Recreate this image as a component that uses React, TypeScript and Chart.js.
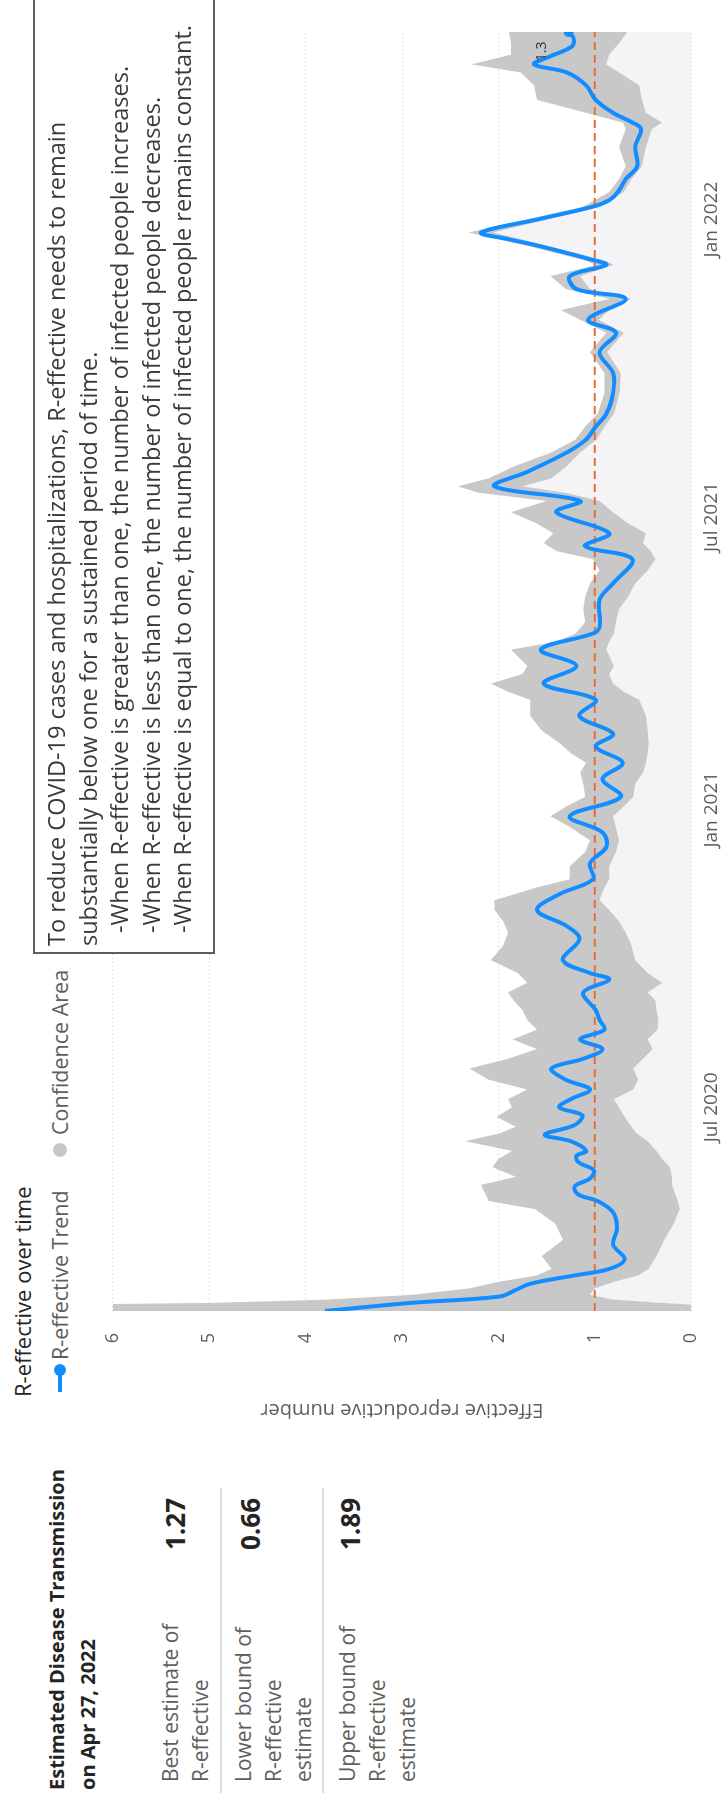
import React, { useEffect, useRef } from "react";
import { Chart, registerables } from "chart.js";

Chart.register(...registerables);

// Days are counted from 1 Jan 2020 (day 0).
const firstDay = 56;
const lastDay = 847;

const trendDays = [56, 61, 65, 69, 73, 78, 82, 88, 97, 107, 117, 124, 128, 133, 138, 143, 148, 152, 155, 161, 165, 171, 177, 182, 187, 193, 199, 206, 212, 218, 224, 230, 236, 242, 253, 261, 265, 273, 286, 294, 304, 314, 323, 333, 343, 352, 362, 374, 385, 395, 405, 413, 424, 434, 444, 455, 465, 475, 479, 496, 506, 521, 529, 537, 550, 557, 566, 575, 587, 595, 603, 611, 624, 636, 649, 661, 669, 682, 688, 696, 703, 706, 715, 719, 723, 731, 739, 743, 748, 756, 764, 776, 787, 791, 797, 805, 814, 822, 827, 832, 838, 843, 847];
const trendValues = [3.8, 2.91, 1.98, 1.82, 1.66, 1.21, 0.85, 0.69, 0.81, 0.77, 0.81, 0.97, 1.17, 1.21, 1.05, 1.01, 1.17, 1.19, 1.09, 1.25, 1.52, 1.21, 1.13, 1.37, 1.25, 1.05, 1.3, 1.45, 1.12, 0.92, 1.15, 0.9, 0.95, 0.99, 1.12, 0.85, 1.05, 1.33, 1.16, 1.29, 1.6, 1.36, 1.02, 1.05, 0.88, 0.92, 1.26, 0.73, 0.92, 0.71, 0.99, 0.81, 1.16, 0.99, 1.53, 1.19, 1.56, 1.02, 0.95, 0.95, 0.81, 0.61, 1.1, 0.85, 1.4, 1.15, 2.04, 1.7, 1.29, 1.09, 0.99, 0.88, 0.81, 0.81, 0.95, 0.78, 1.07, 0.68, 1.19, 1.26, 0.88, 1.02, 1.6, 1.91, 2.18, 1.6, 1.02, 0.85, 0.76, 0.68, 0.56, 0.58, 0.52, 0.61, 0.81, 0.99, 1.09, 1.29, 1.63, 1.46, 1.24, 1.22, 1.27];

const bandDays = [56, 60, 61, 63, 66, 70, 74, 78, 82, 90, 100, 110, 119, 124, 134, 139, 145, 150, 155, 161, 166, 170, 176, 182, 187, 193, 199, 206, 212, 218, 224, 230, 236, 242, 248, 253, 259, 265, 273, 282, 290, 297, 304, 310, 318, 323, 331, 340, 347, 355, 362, 368, 374, 382, 389, 395, 401, 407, 415, 424, 434, 439, 444, 450, 455, 465, 470, 475, 482, 490, 498, 506, 514, 521, 526, 531, 537, 543, 550, 557, 562, 566, 571, 578, 587, 595, 603, 611, 624, 636, 649, 661, 669, 675, 682, 688, 696, 703, 706, 715, 723, 731, 739, 748, 756, 764, 776, 787, 791, 797, 805, 814, 822, 827, 833, 840, 847];
const bandLower = [0, 0, 0.3, 0.8, 1.05, 1.0, 0.8, 0.55, 0.44, 0.36, 0.28, 0.18, 0.12, 0.14, 0.2, 0.2, 0.22, 0.3, 0.36, 0.45, 0.57, 0.62, 0.69, 0.75, 0.8, 0.6, 0.55, 0.6, 0.5, 0.4, 0.45, 0.35, 0.34, 0.36, 0.37, 0.45, 0.3, 0.45, 0.58, 0.62, 0.68, 0.75, 0.85, 0.95, 0.9, 0.85, 0.85, 0.78, 0.75, 0.78, 0.81, 0.7, 0.6, 0.58, 0.5, 0.47, 0.45, 0.44, 0.45, 0.47, 0.54, 0.7, 0.81, 0.85, 0.8, 0.88, 0.85, 0.8, 0.78, 0.75, 0.65, 0.58, 0.45, 0.37, 0.42, 0.5, 0.47, 0.65, 0.81, 0.95, 1.3, 1.75, 1.45, 1.3, 1.15, 0.98, 0.9, 0.8, 0.74, 0.73, 0.87, 0.7, 0.96, 0.85, 0.62, 1.05, 1.15, 0.8, 0.92, 1.5, 2.05, 1.5, 0.94, 0.7, 0.62, 0.51, 0.47, 0.41, 0.3, 0.47, 0.51, 0.54, 0.75, 0.88, 0.85, 0.75, 0.66];
const bandUpper = [6.5, 6.5, 5.0, 3.8, 2.9, 2.3, 2.0, 1.6, 1.45, 1.55, 1.33, 1.41, 1.62, 2.1, 2.18, 1.82, 2.06, 2.0, 1.86, 2.34, 1.98, 1.82, 2.02, 1.86, 1.9, 1.7, 2.1, 2.3, 1.9, 1.6, 1.85, 1.6, 1.7, 1.75, 1.84, 1.9, 1.7, 1.8, 2.08, 1.95, 1.9, 1.95, 2.04, 2.04, 1.6, 1.26, 1.26, 1.1, 1.05, 1.25, 1.46, 1.3, 1.1, 1.12, 1.15, 1.09, 1.25, 1.36, 1.55, 1.67, 1.67, 1.9, 2.08, 1.75, 1.7, 1.87, 1.4, 1.2, 1.1, 1.12, 1.1, 1.05, 0.95, 1.02, 1.4, 1.53, 1.43, 1.6, 1.87, 1.5, 2.2, 2.42, 2.1, 1.85, 1.45, 1.2, 1.1, 0.97, 0.9, 0.9, 1.05, 0.88, 1.15, 1.35, 0.85, 1.3, 1.46, 0.98, 1.12, 1.72, 2.31, 1.72, 1.12, 0.85, 0.75, 0.68, 0.75, 0.68, 0.71, 1.09, 1.6, 1.63, 1.77, 2.28, 1.87, 1.87, 1.89];

const xTickDays = [182, 366, 547, 731];
const xTickLabels = ["Jul 2020", "Jan 2021", "Jul 2021", "Jan 2022"];
const yTickMin = 0;
const yTickMax = 6;
const thresholdValue = 1;
const pointLabelText = "1.3";
const pointLabelDay = 835;
const pointLabelValue = 1.55;

const headerLines = ["Estimated Disease Transmission", "on Apr 27, 2022"];
const cardLabels = [
  ["Best estimate of", "R-effective"],
  ["Lower bound of", "R-effective", "estimate"],
  ["Upper bound of", "R-effective", "estimate"],
];
const cardValues = ["1.27", "0.66", "1.89"];
const chartTitle = "R-effective over time";
const legendTrend = "R-effective Trend";
const legendBand = "Confidence Area";
const yAxisTitle = "Effective reproductive number";
const noteLines = [
  "To reduce COVID-19 cases and hospitalizations, R-effective needs to remain",
  "substantially below one for a sustained period of time.",
  "-When R-effective is greater than one, the number of infected people increases.",
  "-When R-effective is less than one, the number of infected people decreases.",
  "-When R-effective is equal to one, the number of infected people remains constant.",
];

const FONT = "'Segoe UI', 'Open Sans', sans-serif";
const BLUE = "#118DFF";
const BAND = "#C8C8C8";
const LIGHT = "#F4F4F6";
const ORANGE = "#E66C37";
const AXIS_TEXT = "#605E5C";

const W = 1802;
const H = 724;

export default function App() {
  const canvasRef = useRef<HTMLCanvasElement>(null);

  useEffect(() => {
    const canvas = canvasRef.current;
    if (!canvas) return;
    const labelPlugin = {
      id: "pointLabel",
      afterDatasetsDraw(chart: any) {
        const { ctx, scales } = chart;
        ctx.save();
        ctx.font = "14px 'Open Sans'";
        ctx.fillStyle = "#333333";
        ctx.textAlign = "center";
        ctx.textBaseline = "middle";
        ctx.fillText(pointLabelText, scales.x.getPixelForValue(pointLabelDay), scales.y.getPixelForValue(pointLabelValue));
        ctx.restore();
      },
    };
    const chart = new Chart(canvas, {
      type: "line",
      data: {
        datasets: [
          {
            label: legendTrend,
            data: trendDays.map((d, i) => ({ x: d, y: trendValues[i] })),
            borderColor: BLUE,
            backgroundColor: BLUE,
            borderWidth: 4,
            tension: 0.35,
            pointRadius: (c: any) => (c.dataIndex === trendDays.length - 1 ? 5 : 0),
            pointBackgroundColor: BLUE,
            pointBorderWidth: 0,
            fill: false,
            order: 0,
          },
          {
            label: "threshold",
            data: [
              { x: firstDay, y: thresholdValue },
              { x: lastDay, y: thresholdValue },
            ],
            borderColor: ORANGE,
            borderWidth: 2,
            borderDash: [8, 5],
            pointRadius: 0,
            fill: false,
            order: 1,
          },
          {
            label: "lower",
            data: bandDays.map((d, i) => ({ x: d, y: bandLower[i] })),
            borderWidth: 0,
            borderColor: "rgba(0,0,0,0)",
            backgroundColor: LIGHT,
            pointRadius: 0,
            fill: "origin",
            tension: 0,
            order: 3,
          },
          {
            label: legendBand,
            data: bandDays.map((d, i) => ({ x: d, y: bandUpper[i] })),
            borderWidth: 0,
            borderColor: "rgba(0,0,0,0)",
            backgroundColor: BAND,
            pointRadius: 0,
            fill: 2,
            tension: 0,
            order: 2,
          },
        ],
      },
      options: {
        responsive: false,
        animation: false,
        layout: { padding: { top: 26, right: 20, left: 0, bottom: 0 } },
        plugins: { legend: { display: false }, tooltip: { enabled: false } },
        scales: {
          x: {
            type: "linear",
            min: firstDay,
            max: lastDay,
            grid: { display: false, drawTicks: false },
            border: { display: false },
            afterBuildTicks: (scale: any) => {
              scale.ticks = xTickDays.map((v) => ({ value: v }));
            },
            afterFit: (scale: any) => {
              scale.height = 31;
            },
            ticks: {
              autoSkip: false,
              maxRotation: 0,
              padding: 9,
              color: AXIS_TEXT,
              font: { family: "'Open Sans'", size: 19 },
              callback: (v: any) => {
                const i = xTickDays.indexOf(Number(v));
                return i >= 0 ? xTickLabels[i] : "";
              },
            },
          },
          y: {
            min: yTickMin,
            max: yTickMax,
            grid: { color: "#C8C8C8", lineWidth: 1, drawTicks: false },
            border: { display: false, dash: [1, 3] },
            afterFit: (scale: any) => {
              scale.width = 131;
            },
            ticks: {
              stepSize: 1,
              padding: 22,
              color: AXIS_TEXT,
              font: { family: "'Open Sans'", size: 18 },
            },
            title: {
              display: true,
              text: yAxisTitle,
              color: AXIS_TEXT,
              font: { family: "'Open Sans'", size: 20 },
              padding: { top: 20, bottom: 0 },
            },
          },
        },
      },
      plugins: [labelPlugin],
    } as any);
    return () => chart.destroy();
  }, []);

  const abs = (left: number, top: number, extra: React.CSSProperties = {}): React.CSSProperties => ({
    position: "absolute",
    left,
    top,
    whiteSpace: "pre",
    ...extra,
  });

  const rowTops = [155, 228, 332];
  const valueTops = [160, 235, 335];
  const sepTops = [220, 322];

  return (
    <div style={{ position: "fixed", left: 0, top: 0, width: H, height: W, overflow: "hidden", background: "#fff" }}>
      <div
        style={{
          position: "absolute",
          left: 0,
          top: 0,
          width: W,
          height: H,
          transformOrigin: "0 0",
          transform: `translateY(${W}px) rotate(-90deg)`,
          fontFamily: FONT,
          background: "#fff",
        }}
      >
        {/* header */}
        <div style={abs(12, 41, { fontWeight: 700, fontSize: 20, lineHeight: "31px", color: "#252423" })}>
          {headerLines.map((l, i) => (
            <div key={i}>{l}</div>
          ))}
        </div>
        {cardLabels.map((lines, r) => (
          <div key={r} style={abs(20, rowTops[r], { fontSize: 21, lineHeight: "30px", color: AXIS_TEXT })}>
            {lines.map((l, i) => (
              <div key={i}>{l}</div>
            ))}
          </div>
        ))}
        {cardValues.map((v, r) => (
          <div key={r} style={abs(252, valueTops[r], { fontSize: 26, fontWeight: 700, lineHeight: "30px", color: "#252423" })}>
            {v}
          </div>
        ))}
        {sepTops.map((t, i) => (
          <div key={i} style={abs(9, t, { width: 305, height: 2, background: "#E1DFDD" })} />
        ))}

        {/* chart title and legend */}
        <div style={abs(405, 8, { fontSize: 22, lineHeight: "28px", color: "#252423" })}>{chartTitle}</div>
        <div style={abs(410, 58, { width: 24, height: 4, background: BLUE })} />
        <div style={abs(426, 54, { width: 12, height: 12, borderRadius: 6, background: BLUE })} />
        <div style={abs(442, 46, { fontSize: 21.5, lineHeight: "28px", color: AXIS_TEXT })}>{legendTrend}</div>
        <div style={abs(645, 53, { width: 14, height: 14, borderRadius: 7, background: BAND })} />
        <div style={abs(667, 46, { fontSize: 21.5, lineHeight: "28px", color: AXIS_TEXT })}>{legendBand}</div>

        {/* chart */}
        <div style={abs(360, 80, { width: 1430, height: 644 })}>
          <canvas ref={canvasRef} width={1430} height={644} style={{ width: 1430, height: 644, display: "block" }} />
        </div>

        {/* info box */}
        <div
          style={abs(848, 33, {
            width: 1000,
            height: 182,
            boxSizing: "border-box",
            border: "2px solid #605E5C",
            background: "#fff",
            padding: "6px 0 0 6px",
            fontSize: 23.5,
            lineHeight: "31.5px",
            color: "#3B3A39",
          })}
        >
          {noteLines.map((l, i) => (
            <div key={i} style={{ marginLeft: i >= 2 ? 13 : 0 }}>
              {l}
            </div>
          ))}
        </div>
      </div>
    </div>
  );
}
